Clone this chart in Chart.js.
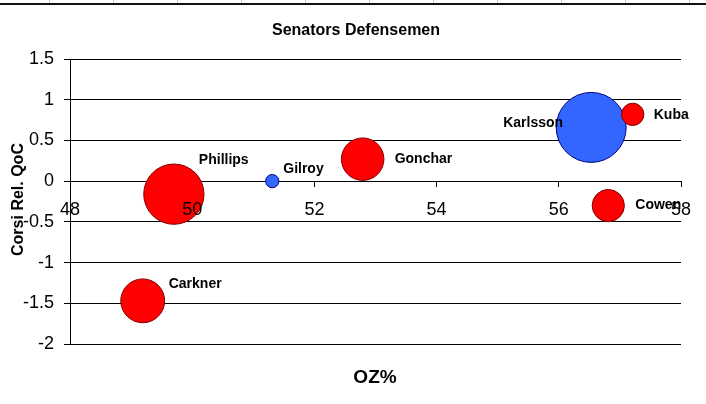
<!DOCTYPE html>
<html lang="en">
<head>
    <meta charset="UTF-8">
    <title>Senators Defensemen</title>
    <script src="https://cdn.jsdelivr.net/npm/chart.js"></script>
    <style>
        html, body {
            margin: 0;
            padding: 0;
            background: #fff;
        }
        .sheet-top {
            position: absolute;
            left: 0;
            top: 0;
            width: 706px;
            height: 3px;
            background: repeating-linear-gradient(90deg, transparent 0 49px, #c8c8c8 49px 50px, transparent 50px 64px);
            border-bottom: 2px solid #111;
        }
        .chart-box {
            position: relative;
            width: 706px;
            height: 404px;
        }
    </style>
</head>
<body>
    <div class="chart-box">
        <canvas id="bubbleChart" width="706" height="404"></canvas>
        <div class="sheet-top"></div>
    </div>

    <script>
        // Data
        const players = ["Phillips", "Gilroy", "Gonchar", "Karlsson", "Kuba", "Cowen", "Carkner"];
        const ozPct = [49.70, 51.31, 52.79, 56.53, 57.21, 56.81, 49.19];
        const corsiRelQoC = [-0.16, 0.00, 0.27, 0.66, 0.82, -0.30, -1.47];
        const bubbleSize = [74.2, 3.6, 36.9, 100, 10.2, 21.2, 39.3];
        const blueSeries = ["Karlsson", "Gilroy"];
        const xTicks = [48, 50, 52, 54, 56, 58];
        const yTicks = [1.5, 1, 0.5, 0, -0.5, -1, -1.5, -2];

        // where each name sits next to its bubble (px from centre)
        const labelOffsets = {
            Phillips: [25, -34],
            Gilroy: [11, -12],
            Gonchar: [32, 0],
            Karlsson: [-88, -4],
            Kuba: [21, 1],
            Cowen: [27, 0],
            Carkner: [26, -17]
        };

        const FONT = "'Liberation Sans', Arial, sans-serif";
        const MAX_R = 35;
        const maxSize = Math.max(...bubbleSize);

        function points(inBlue) {
            const pts = [];
            players.forEach((name, i) => {
                if (blueSeries.includes(name) === inBlue) {
                    pts.push({
                        x: ozPct[i],
                        y: corsiRelQoC[i],
                        r: MAX_R * Math.sqrt(bubbleSize[i] / maxSize),
                        name: name
                    });
                }
            });
            return pts;
        }

        const textPlugin = {
            id: "texts",
            afterDatasetsDraw(chart) {
                const ctx = chart.ctx;
                ctx.save();
                ctx.fillStyle = "#000";
                ctx.font = "bold 14px " + FONT;
                ctx.textAlign = "left";
                ctx.textBaseline = "middle";
                chart.data.datasets.forEach((ds, di) => {
                    const meta = chart.getDatasetMeta(di);
                    ds.data.forEach((p, j) => {
                        const el = meta.data[j];
                        const off = labelOffsets[p.name];
                        ctx.fillText(p.name, el.x + off[0], el.y + off[1]);
                    });
                });
                ctx.restore();
            },
            afterDraw(chart) {
                const ctx = chart.ctx;
                const area = chart.chartArea;
                ctx.save();
                ctx.fillStyle = "#000";
                ctx.textAlign = "center";
                ctx.textBaseline = "middle";

                ctx.font = "bold 16px " + FONT;
                ctx.fillText("Senators Defensemen", 356, 31);

                ctx.font = "bold 19px " + FONT;
                ctx.fillText("OZ%", 375, 378);

                ctx.translate(19, (area.top + area.bottom) / 2 - 2);
                ctx.rotate(-Math.PI / 2);
                ctx.font = "bold 16px " + FONT;
                ctx.fillText("Corsi Rel. QoC", 0, 0);
                ctx.restore();
            }
        };

        const ctx = document.getElementById("bubbleChart").getContext("2d");
        new Chart(ctx, {
            type: "bubble",
            data: {
                datasets: [
                    {
                        label: "Defensemen",
                        data: points(false),
                        backgroundColor: "#ff0000",
                        borderColor: "#800000",
                        borderWidth: 1
                    },
                    {
                        label: "Highlighted",
                        data: points(true),
                        backgroundColor: "#3366ff",
                        borderColor: "#000080",
                        borderWidth: 1
                    }
                ]
            },
            options: {
                responsive: false,
                animation: false,
                events: [],
                layout: {
                    autoPadding: false,
                    padding: { top: 59, bottom: 60, right: 25, left: 0 }
                },
                plugins: {
                    legend: { display: false },
                    tooltip: { enabled: false },
                    title: { display: false }
                },
                scales: {
                    x: {
                        type: "linear",
                        position: { y: 0 },
                        min: xTicks[0],
                        max: xTicks[xTicks.length - 1],
                        afterBuildTicks: (scale) => {
                            scale.ticks = xTicks.map(v => ({ value: v }));
                        },
                        afterFit: (scale) => {
                            scale.paddingLeft = 0;
                            scale.paddingRight = 0;
                        },
                        ticks: {
                            color: "#000",
                            padding: 12,
                            maxRotation: 0,
                            z: 1,
                            font: { family: FONT, size: 18 }
                        },
                        grid: {
                            drawOnChartArea: false,
                            drawTicks: true,
                            tickLength: 6,
                            color: "#000"
                        },
                        border: { display: false }
                    },
                    y: {
                        type: "linear",
                        position: "left",
                        min: yTicks[yTicks.length - 1],
                        max: yTicks[0],
                        afterBuildTicks: (scale) => {
                            scale.ticks = yTicks.map(v => ({ value: v }));
                        },
                        afterFit: (scale) => {
                            scale.width = 70;
                        },
                        ticks: {
                            color: "#000",
                            padding: 10,
                            font: { family: FONT, size: 18 },
                            callback: (v) => String(v)
                        },
                        grid: {
                            color: "#000",
                            tickLength: 6
                        },
                        border: { color: "#000", width: 1 }
                    }
                }
            },
            plugins: [textPlugin]
        });
    </script>
</body>
</html>
